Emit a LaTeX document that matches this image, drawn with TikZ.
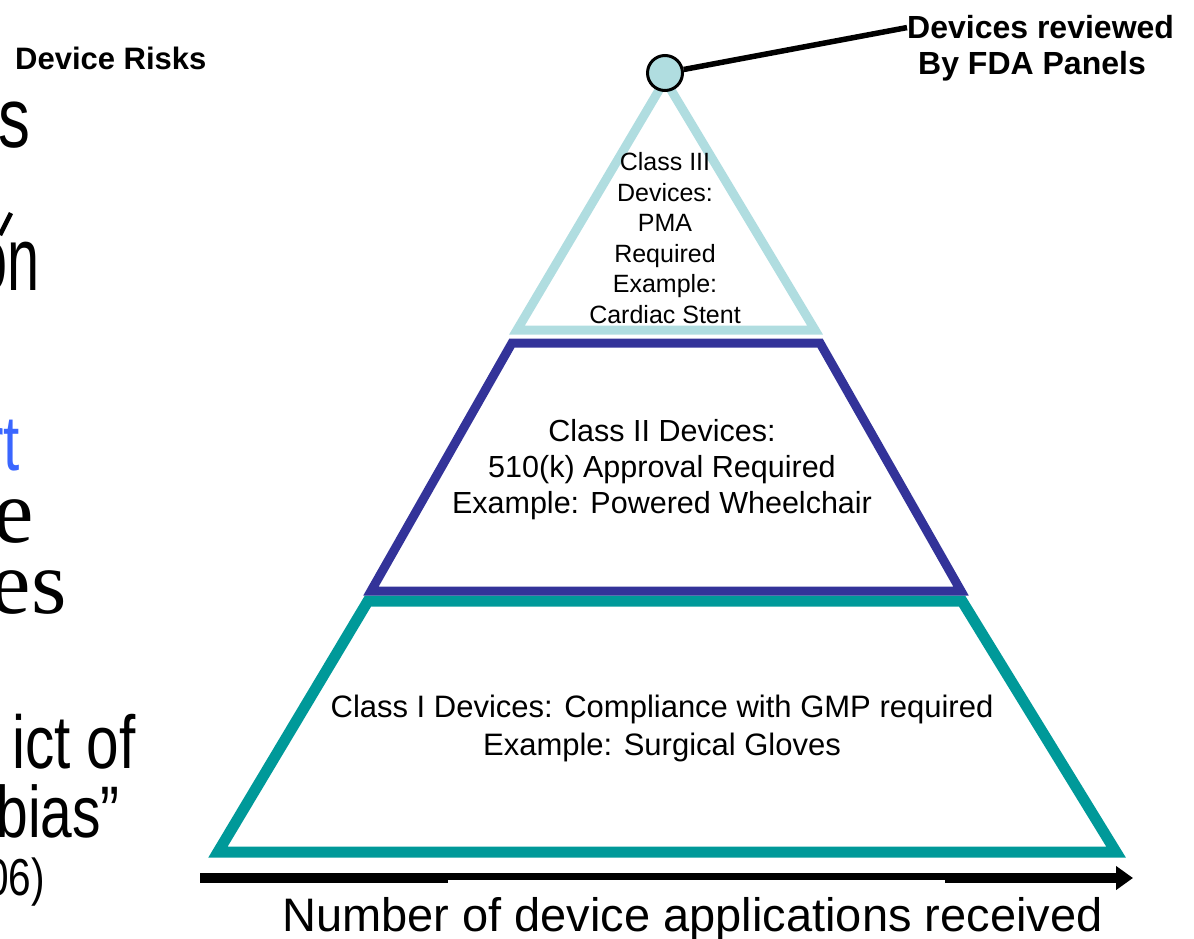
\documentclass[tikz,border=0pt]{standalone}
\usepackage{fontspec}
\usepackage{graphicx}
\setmainfont{Liberation Sans}
\newfontfamily\serifface{Liberation Serif}
\usetikzlibrary{arrows.meta}

\definecolor{tierthree}{HTML}{B0DDE0}
\definecolor{tiertwo}{HTML}{333399}
\definecolor{tierone}{HTML}{009999}
\definecolor{linkblue}{HTML}{3A66FF}

% horizontally condensed text
\newcommand{\condensed}[2][0.75]{\scalebox{#1}[1]{#2}}

\begin{document}
\begin{tikzpicture}[x=1pt,y=-1pt,
  tierline/.style={line width=#1, line join=miter},
  tierlabel/.style={align=center, inner sep=0pt},
  fragment/.style={anchor=base east, inner sep=0pt},
  axisline/.style={line width=10pt, -{Triangle[length=17pt,width=23pt]}},
  callout/.style={line width=5.5pt}]
\useasboundingbox (0,0) rectangle (1194,939);
\clip (0,0) rectangle (1194,939);

% ---- text fragments on the left edge ----
\node[fragment, font=\fontsize{85}{90}\selectfont] (fs) at (31,147) {\condensed{s}};
\draw[line width=4.5pt] (0,235) -- (11,213);
\node[fragment, font=\fontsize{90}{95}\selectfont] (fon) at (40,290) {\condensed[0.64]{on}};
\node[fragment, font=\fontsize{78}{85}\selectfont, text=linkblue] (frt) at (20,470) {\condensed{rt}};
\node[fragment, font=\serifface\fontsize{91}{95}\selectfont] (fe) at (34,542) {e};
\node[fragment, font=\serifface\fontsize{91}{95}\selectfont] (fes) at (67,613) {es};
\node[fragment, font=\fontsize{75}{80}\selectfont] (fict) at (136,768) {\condensed[0.78]{ict of}};
\node[fragment, font=\fontsize{73}{80}\selectfont] (fbias) at (120,837) {\condensed[0.78]{bias”}};
\node[fragment, font=\fontsize{52}{56}\selectfont] (fyear) at (45,895) {\condensed[0.78]{06)}};

% ---- heading ----
\node[anchor=base west, inner sep=0pt, font=\bfseries\fontsize{31}{36}\selectfont] (risk) at (15,70) {Device Risks};

% ---- pyramid tiers ----
\draw[tierline=11pt, tierone] (368,601) -- (962,601) -- (1116,852) -- (218,852) -- cycle;
\draw[tierline=9pt, tiertwo] (512,343) -- (820,343) -- (961,591) -- (371,591) -- cycle;
\draw[tierline=9pt, tierthree] (665,80) -- (815,330) -- (517,330) -- cycle;

% ---- top marker and its callout ----
\node[circle, minimum size=35pt, inner sep=0pt, fill=tierthree, draw=black, line width=3pt] (apex) at (665,73) {};
\node[anchor=base west, inner sep=0pt, font=\bfseries\fontsize{32}{36}\selectfont] (rev1) at (907,39) {Devices reviewed};
\node[anchor=base west, inner sep=0pt, font=\bfseries\fontsize{32}{36}\selectfont] (rev2) at (918,75) {By FDA Panels};
\draw[callout] (apex) -- (rev1.west);

% ---- tier labels ----
\node[tierlabel, font=\fontsize{25}{30.6}\selectfont] (c3) at (665,238)
  {Class III\\Devices:\\PMA\\Required\\Example:\\Cardiac Stent};
\node[tierlabel, font=\fontsize{30.5}{36}\selectfont] (c2) at (662,470)
  {Class II Devices:\\510(k) Approval Required\\Example: Powered Wheelchair};
\node[tierlabel, font=\fontsize{31}{38}\selectfont] (c1) at (662,728)
  {Class I Devices: Compliance with GMP required\\Example: Surgical Gloves};

% ---- horizontal axis ----
\coordinate (ax0) at (200,878);
\coordinate (ax1) at (1133,878);
\draw[axisline] (ax0) -- (ax1);
\fill[white] (448,880) rectangle (945,884);
\node[anchor=base west, inner sep=0pt, font=\fontsize{47}{52}\selectfont] (caption) at (282,931)
  {Number of device applications received};
\end{tikzpicture}
\end{document}
